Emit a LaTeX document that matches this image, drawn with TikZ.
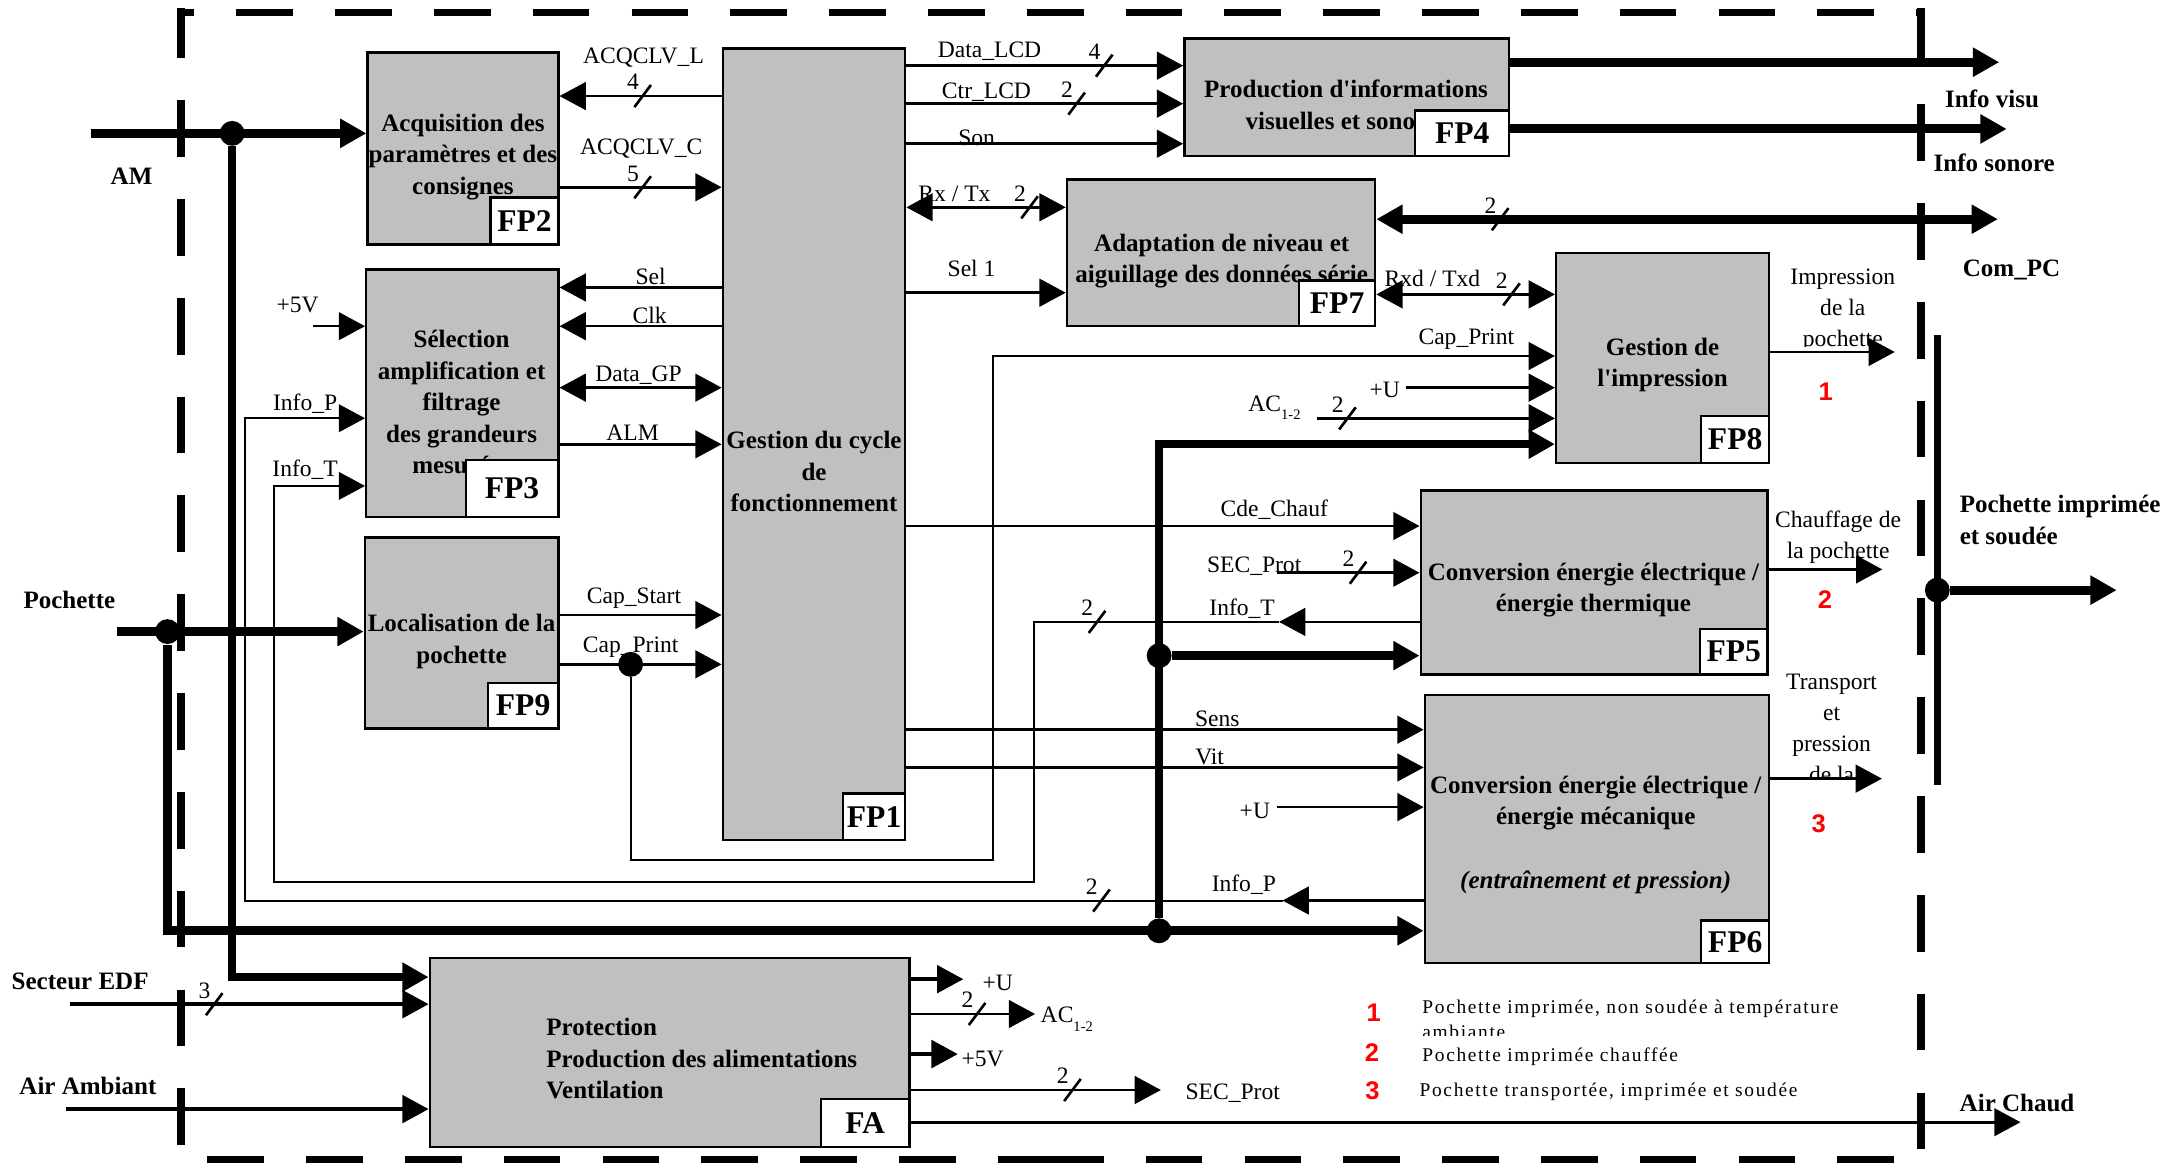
\documentclass[tikz,border=0pt]{standalone}
\usepackage{fontspec}
\setmainfont{Liberation Serif}
\setsansfont{Liberation Sans}
\newfontfamily\legfont[LetterSpace=8.5]{Liberation Serif}
\usetikzlibrary{positioning,fit,arrows.meta}
\definecolor{boxgray}{RGB}{192,192,192}
\newcommand{\acsub}{\raisebox{-3.6pt}{\fontsize{6}{6}\selectfont 1-2}}
\tikzset{
  block/.style={draw, line width=0.35mm, fill=boxgray, inner sep=0pt},
  tag/.style={draw, line width=0.35mm, fill=white, inner sep=0pt},
  tagtxt/.style={inner sep=0pt, font=\fontsize{13}{13}\selectfont\bfseries},
  btxt/.style={align=center, inner sep=0pt, font=\fontsize{10.3}{13}\selectfont\bfseries},
  lbl/.style={inner sep=0pt, align=center, font=\fontsize{9.7}{12.8}\selectfont},
  ext/.style={inner sep=0pt, align=left, font=\fontsize{10.3}{13}\selectfont\bfseries},
  leg/.style={inner sep=0pt, align=left, anchor=west, font=\fontsize{8}{10.2}\legfont},
  num/.style={inner sep=0pt, text=red, font=\fontsize{10.5}{10.5}\selectfont\sffamily\bfseries},
  sig/.style={line width=0.38mm},
  fine/.style={line width=0.3mm},
  med/.style={line width=0.5mm},
  bus/.style={line width=1.1mm},
  fat/.style={line width=1.3mm},
  arr/.style={-{Triangle[length=3.8mm,width=4mm]}},
  darr/.style={{Triangle[length=3.8mm,width=4mm]}-{Triangle[length=3.8mm,width=4mm]}},
  frontier/.style={line width=1.1mm, dash pattern=on 8.2mm off 6.1mm},
  jdot/.style={circle, fill, inner sep=0pt, minimum size=3.6mm},
  pics/nbus/.style={code={\draw[sig] (-6,8) -- (6,-8); \node[lbl] (-n) at (-7,-10) {#1};}}
}
\begin{document}
\begin{tikzpicture}[x=0.2mm,y=-0.2mm]
  \useasboundingbox (0,0) rectangle (1568,842);
  \draw[frontier, dash phase=6.3mm] (131,9) -- (1392,9);
  \draw[frontier, dash phase=1mm] (131,6) -- (131,836);
  \draw[frontier, dash phase=0.4mm] (1390,6) -- (1390,836);
  \draw[frontier, dash phase=10.5mm] (131,839) -- (763,839);
  \draw[frontier] (757.5,839) -- (1392,839);

  \node[block, fit={(266,38) (404,177)}] (fp2) {};
  \node[block, fit={(265,195) (404,374)}] (fp3) {};
  \node[block, fit={(264,389) (404,527)}] (fp9) {};
  \node[block, fit={(523,35) (655,608)}] (fp1) {};
  \node[block, fit={(857,28) (1092,113)}] (fp4) {};
  \node[block, fit={(772,130) (995,236)}] (fp7) {};
  \node[block, fit={(1126,183) (1280,335)}] (fp8) {};
  \node[block, fit={(1028,355) (1279,488)}] (fp5) {};
  \node[block, fit={(1031,503) (1280,697)}] (fp6) {};
  \node[block, fit={(311,693) (658,830)}] (fa) {};

  \node[btxt] (fp2t) at (335,113.5) {Acquisition des\\paramètres et des\\consignes};
  \node[btxt] (fp3t) at (334,291) {Sélection\\amplification et\\filtrage\\des grandeurs\\mesurées};
  \node[btxt] (fp9t) at (334,464) {Localisation de la\\pochette};
  \node[btxt] (fp1t) at (589,341.4) {Gestion du cycle\\de\\fonctionnement};
  \node[btxt] (fp4t) at (974,76) {Production d\textquotesingle informations\\visuelles et sonores};
  \node[btxt] (fp7t) at (884,189) {Adaptation de niveau et\\aiguillage des données série};
  \node[btxt] (fp8t) at (1203,264) {Gestion de\\l\textquotesingle impression};
  \node[btxt] (fp5t) at (1153,427) {Conversion énergie électrique /\\énergie thermique};
  \node[btxt] (fp6t) at (1154.6,604) {Conversion énergie électrique /\\énergie mécanique\\[13pt]\textit{(entraînement et pression)}};
  \node[btxt, align=left, anchor=west] (fat) at (395,766) {Protection\\Production des alimentations\\Ventilation};

  \node[tag, fit={(355,143) (404,177)}] (fp2n) {};
  \node[tag, fit={(337,333) (404,374)}] (fp3n) {};
  \node[tag, fit={(353,494) (404,527)}] (fp9n) {};
  \node[tag, fit={(610,574) (655,608)}] (fp1n) {};
  \node[tag, fit={(1024,80) (1092,113)}] (fp4n) {};
  \node[tag, fit={(940,203) (995,236)}] (fp7n) {};
  \node[tag, fit={(1231,301) (1280,335)}] (fp8n) {};
  \node[tag, fit={(1230,455) (1279,488)}] (fp5n) {};
  \node[tag, fit={(1231,666) (1280,697)}] (fp6n) {};
  \node[tag, fit={(594,795) (658,830)}] (fan) {};
  \node[tagtxt] (fp2l) at (fp2n) {FP2};
  \node[tagtxt] (fp3l) at (fp3n) {FP3};
  \node[tagtxt] (fp9l) at (fp9n) {FP9};
  \node[tagtxt] (fp1l) at (fp1n) {FP1};
  \node[tagtxt] (fp4l) at (fp4n) {FP4};
  \node[tagtxt] (fp7l) at (fp7n) {FP7};
  \node[tagtxt] (fp8l) at (fp8n) {FP8};
  \node[tagtxt] (fp5l) at (fp5n) {FP5};
  \node[tagtxt] (fp6l) at (fp6n) {FP6};
  \node[tagtxt] (fal) at (fan) {FA};

  \coordinate (am) at (65.8,96.5);
  \coordinate (poc) at (84.8,457);
  \coordinate (v5) at (226.8,236);
  \coordinate (visu) at (1446.6,45);
  \coordinate (sono) at (1452,93.3);
  \coordinate (com) at (1445.6,158.6);
  \coordinate (u8) at (1017,280.5);
  \coordinate (ac8) at (953,302.7);
  \coordinate (sec5) at (923.7,414.4);
  \coordinate (u6) at (923.7,584);
  \coordinate (out1) at (1371,254.7);
  \coordinate (out2) at (1362,412);
  \coordinate (out3) at (1361.7,563.4);
  \coordinate (pv1) at (1401.8,242.3);
  \coordinate (pv2) at (1401.8,568);
  \coordinate (pout) at (1531.6,427);
  \coordinate (sect) at (51,726.6);
  \coordinate (airin) at (48,802.5);
  \coordinate (uout) at (697,708.5);
  \coordinate (acout) at (749,733.7);
  \coordinate (vout) at (693,762.7);
  \coordinate (secout) at (840,788.7);
  \coordinate (airout) at (1462,812);
  \coordinate (it1) at (925.5,450);
  \coordinate (itb) at (748,638);
  \coordinate (itc) at (198,638);
  \coordinate (ip1) at (928,651.6);
  \coordinate (ipc) at (177,651.6);
  \coordinate (cpb) at (718.4,622);

  \node[jdot] (jam) at (168,96.5) {};
  \node[jdot] (jpo) at (121.2,457) {};
  \node[jdot] (jcp) at (456.3,480.7) {};
  \node[jdot] (jb1) at (838.7,474.4) {};
  \node[jdot] (jb2) at (838.7,673.5) {};
  \node[jdot] (jpi) at (1401.8,427) {};

  \draw[fat,arr] (am) -- (fp2.west |- am);
  \draw[fat,arr] (poc) -- (fp9.west |- poc);
  \draw[bus,arr] (jam) |- (fa.west |- 0,707);
  \draw[fat,arr] (jpo) |- (fp6.west |- jb2);
  \draw[bus,arr] (jb2) |- (fp8.west |- 0,321.4);
  \draw[fat,arr] (jb1) -- (fp5.west |- jb1);

  \draw[sig,arr] (fp1.west |- 0,69.5) -- (fp2.east |- 0,69.5);
  \draw[sig,arr] (fp2.east |- 0,135.5) -- (fp1.west |- 0,135.5);
  \draw[sig,arr] (fp1.west |- 0,208) -- (fp3.east |- 0,208);
  \draw[sig,arr] (fp1.west |- 0,236) -- (fp3.east |- 0,236);
  \draw[sig,darr] (fp3.east |- 0,280.5) -- (fp1.west |- 0,280.5);
  \draw[sig,arr] (fp3.east |- 0,321.5) -- (fp1.west |- 0,321.5);
  \draw[sig,arr] (v5) -- (fp3.west |- v5);
  \draw[sig,arr] (fp9.east |- 0,445) -- (fp1.west |- 0,445);
  \draw[sig,arr] (fp9.east |- jcp) -- (fp1.west |- jcp);

  \draw[sig,arr] (fp1.east |- 0,47.5) -- (fp4.west |- 0,47.5);
  \draw[sig,arr] (fp1.east |- 0,75) -- (fp4.west |- 0,75);
  \draw[sig,arr] (fp1.east |- 0,104) -- (fp4.west |- 0,104);
  \draw[sig,darr] (fp1.east |- 0,150) -- (fp7.west |- 0,150);
  \draw[sig,arr] (fp1.east |- 0,211.8) -- (fp7.west |- 0,211.8);
  \draw[sig,arr] (fp1.east |- 0,380.6) -- (fp5.west |- 0,380.6);
  \draw[sig,arr] (fp1.east |- 0,528) -- (fp6.west |- 0,528);
  \draw[sig,arr] (fp1.east |- 0,555.3) -- (fp6.west |- 0,555.3);

  \draw[fat,arr] (fp4.east |- visu) -- (visu);
  \draw[fat,arr] (fp4.east |- sono) -- (sono);
  \draw[fat,darr] (fp7.east |- com) -- (com);
  \draw[sig,darr] (fp7.east |- 0,213) -- (fp8.west |- 0,213);
  \draw[sig,arr] (fp8.east |- out1) -- (out1);
  \draw[sig,arr] (fp5.east |- out2) -- (out2);
  \draw[sig,arr] (fp6.east |- out3) -- (out3);
  \draw[bus] (pv1) -- (pv2);
  \draw[fat,arr] (jpi) -- (pout);

  \draw[fine,arr] (jcp) |- (cpb) |- (fp8.west |- 0,257.6);
  \draw[sig,arr] (u8) -- (fp8.west |- u8);
  \draw[sig,arr] (ac8) -- (fp8.west |- ac8);
  \draw[sig,arr] (sec5) -- (fp5.west |- sec5);
  \draw[sig,arr] (fp5.west |- it1) -- (it1);
  \draw[fine,arr] (it1) -| (itb) -- (itc) |- (fp3.west |- 0,351.6);
  \draw[sig,arr] (u6) -- (fp6.west |- u6);
  \draw[sig,arr] (fp6.west |- ip1) -- (ip1);
  \draw[fine,arr] (ip1) -- (ipc) |- (fp3.west |- 0,302.6);

  \draw[med,arr] (sect) -- (fa.west |- sect);
  \draw[med,arr] (airin) -- (fa.west |- airin);
  \draw[med,arr] (fa.east |- uout) -- (uout);
  \draw[sig,arr] (fa.east |- acout) -- (acout);
  \draw[med,arr] (fa.east |- vout) -- (vout);
  \draw[sig,arr] (fa.east |- secout) -- (secout);
  \draw[sig,arr] (fa.east |- airout) -- (airout);

  \pic (s1) at (465,69.5) {nbus=4};
  \pic (s2) at (465,135.5) {nbus=5};
  \pic (s3) at (799,47.5) {nbus=4};
  \pic (s4) at (779,75) {nbus=2};
  \pic (s5) at (745,150) {nbus=2};
  \pic (s6) at (1085.5,158.6) {nbus=2};
  \pic (s7) at (1093.7,213) {nbus=2};
  \pic (s8) at (975,302.7) {nbus=2};
  \pic (s9) at (982.7,414.4) {nbus=2};
  \pic (s10) at (793.8,450) {nbus=2};
  \pic (s11) at (797,651.6) {nbus=2};
  \pic (s12) at (155,726.6) {nbus=3};
  \pic (s13) at (707,733.7) {nbus=2};
  \pic (s14) at (776,788.7) {nbus=2};

  \node[lbl] (lacql) at (465.6,42) {ACQCLV\_L};
  \node[lbl] (lacqc) at (464,107.3) {ACQCLV\_C};
  \node[lbl] (lsel) at (470.8,200.2) {Sel};
  \node[lbl] (lclk) at (470,227.9) {Clk};
  \node[lbl] (ldgp) at (462,271.4) {Data\_GP};
  \node[lbl] (lalm) at (457.7,313) {ALM};
  \node[lbl] (lcst) at (458.7,433) {Cap\_Start};
  \node[lbl] (lcpr) at (456.3,468) {Cap\_Print};
  \node[lbl] (linfp) at (220.8,291.8) {Info\_P};
  \node[lbl] (linft) at (220.8,339.6) {Info\_T};
  \node[lbl] (l5v) at (215.4,220.7) {+5V};
  \node[lbl] (llcd) at (716,37.4) {Data\_LCD};
  \node[lbl] (lctr) at (713.8,67) {Ctr\_LCD};
  \node[lbl] (lson) at (706.7,100) {Son};
  \node[lbl] (lrx) at (690.6,140) {Rx / Tx};
  \node[lbl] (lsel1) at (703,194) {Sel 1};
  \node[lbl] (lrxd) at (1036.5,201.6) {Rxd / Txd};
  \node[lbl] (lcpr8) at (1061,245.6) {Cap\_Print};
  \node[lbl] (lu8) at (1002,282) {+U};
  \node[lbl, anchor=base west] (lac8) at (903,297.4) {AC\acsub};
  \node[lbl] (lcde) at (922,369) {Cde\_Chauf};
  \node[lbl] (lsec5) at (907.5,410) {SEC\_Prot};
  \node[lbl] (lint5) at (898.8,440.6) {Info\_T};
  \node[lbl] (lsens) at (880.8,520) {Sens};
  \node[lbl] (lvit) at (875.3,547.8) {Vit};
  \node[lbl] (lu6) at (908,586.5) {+U};
  \node[lbl] (linp6) at (900,640) {Info\_P};
  \node[lbl] (luf) at (722,711.5) {+U};
  \node[lbl, anchor=base west] (lacf) at (752.7,740) {AC\acsub};
  \node[lbl] (l5vf) at (711,766) {+5V};
  \node[lbl] (lsecf) at (892,791) {SEC\_Prot};

  \node[ext] (lam) at (95.2,127.8) {AM};
  \node[ext] (lpoc) at (50.2,434) {Pochette};
  \node[ext] (lvisu) at (1441.4,71.4) {Info visu};
  \node[ext] (lsono) at (1443,117.7) {Info sonore};
  \node[ext] (lcom) at (1455.5,195) {Com\_PC};
  \node[ext, anchor=west] (lpim) at (1417.7,376.4) {Pochette imprimée\\et soudée};
  \node[ext] (ledf) at (58,710) {Secteur EDF};
  \node[ext] (lair) at (63.6,786) {Air Ambiant};
  \node[ext] (lchd) at (1459.5,798) {Air Chaud};

  \begin{scope}
    \clip (1285,185) rectangle (1388,250.5);
    \node[lbl] (limp) at (1333.4,224.3) {Impression\\de la\\pochette};
  \end{scope}
  \node[lbl] (lchf) at (1330,389) {Chauffage de\\la pochette};
  \begin{scope}
    \clip (1285,480) rectangle (1388,562);
    \node[lbl] (ltrp) at (1325.3,527) {Transport\\et\\pression\\de la};
  \end{scope}
  \node[num] (n1) at (1321,283.8) {1};
  \node[num] (n2) at (1320.5,434) {2};
  \node[num] (n3) at (1316,595.7) {3};

  \node[num] (m1) at (994,733) {1};
  \node[num] (m2) at (992.8,761.7) {2};
  \node[num] (m3) at (993,789.2) {3};
  \begin{scope}
    \clip (1020,715) rectangle (1385,749.5);
    \node[leg] (g1) at (1028.9,737.4) {Pochette imprimée, non soudée à température\\ambiante};
  \end{scope}
  \node[leg] (g2) at (1028.9,764.6) {Pochette imprimée chauffée};
  \node[leg] (g3) at (1026.9,790) {Pochette transportée, imprimée et soudée};
\end{tikzpicture}
\end{document}
